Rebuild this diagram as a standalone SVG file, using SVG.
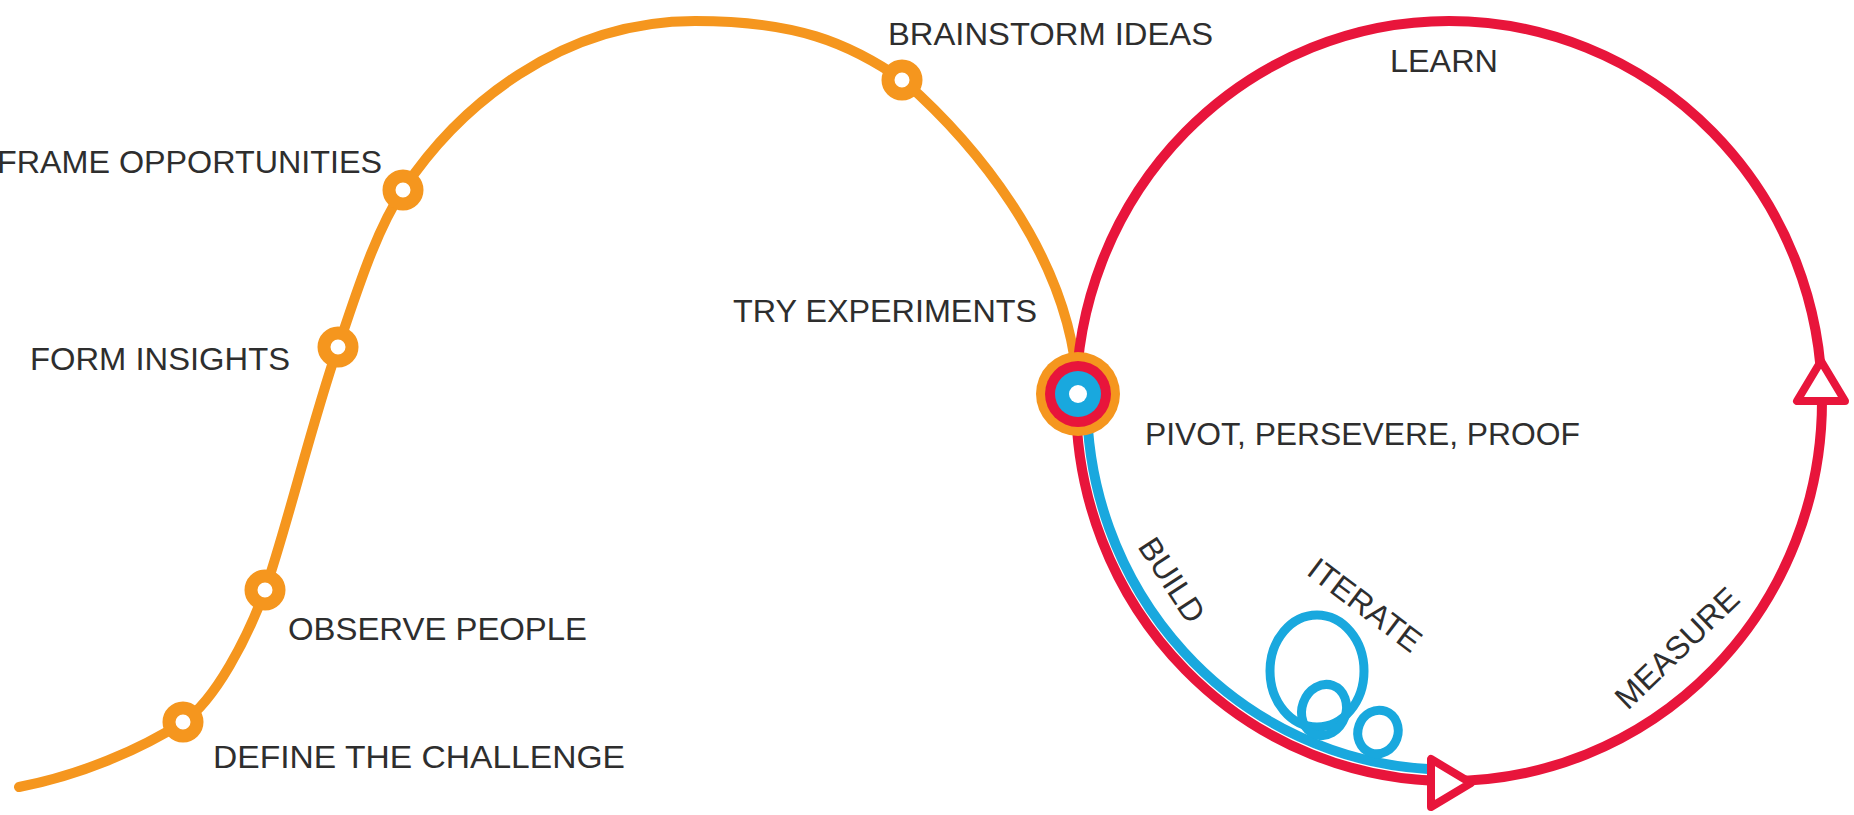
<svg xmlns="http://www.w3.org/2000/svg" width="1854" height="815" viewBox="0 0 1854 815">
<style>
.lbl{font-family:"Liberation Sans",Arial,sans-serif;font-size:32px;fill:#2e2e2e;}
.ring{fill:#ffffff;stroke:#F5961E;stroke-width:13;}
.orange{fill:none;stroke:#F5961E;stroke-width:10;stroke-linecap:round;}
.red{fill:none;stroke:#E8153B;stroke-width:10;}
.cyan{fill:none;stroke:#19A8DE;stroke-width:10;}
.loop{fill:none;stroke:#19A8DE;stroke-width:9;}
.arrow{fill:#ffffff;stroke:#E8153B;stroke-width:8;stroke-linejoin:round;}
</style>
<defs>
<path id="tri" d="M -18 -24 L -18 24 L 22 0 Z"/>
</defs>
<rect width="1854" height="815" fill="#ffffff"/>
<g id="connectors">
<path class="orange" d="M 19 787 C 80 775 140 750 183 722 C 215 701 248 637 265 590 C 285 534 312 422 338 347 C 356 295 375 232 403 190 C 458 107 560 21 695 21 C 795 21 848 42 904 81 C 964 134 1072 250 1078 393"/>
<ellipse class="red" cx="1449" cy="401" rx="373" ry="380"/>
<path class="cyan" d="M 1087 395 A 362 369 0 0 0 1428 769"/>
<ellipse class="loop" cx="1317" cy="671" rx="47" ry="56"/>
<ellipse class="loop" cx="1324" cy="710" rx="22" ry="26" transform="rotate(20 1324 710)"/>
<ellipse class="loop" cx="1378" cy="732" rx="20" ry="22" transform="rotate(20 1378 732)"/>
<use href="#tri" class="arrow" transform="translate(1449 783)"/>
<use href="#tri" class="arrow" transform="translate(1821 383) rotate(-90)"/>
<text class="lbl" x="1390" y="72" textLength="108" lengthAdjust="spacingAndGlyphs">LEARN</text>
<text class="lbl" text-anchor="middle" y="11" transform="translate(1172 580) rotate(57)">BUILD</text>
<text class="lbl" text-anchor="middle" y="11" transform="translate(1365 605) rotate(37)">ITERATE</text>
<text class="lbl" text-anchor="middle" y="11" transform="translate(1677 648) rotate(-44)">MEASURE</text>
</g>
<g id="node-define">
<circle class="ring" cx="183" cy="722" r="14"/>
<text class="lbl" x="213" y="768" textLength="412" lengthAdjust="spacingAndGlyphs">DEFINE THE CHALLENGE</text>
</g>
<g id="node-observe">
<circle class="ring" cx="265" cy="590" r="14"/>
<text class="lbl" x="288" y="640" textLength="299" lengthAdjust="spacingAndGlyphs">OBSERVE PEOPLE</text>
</g>
<g id="node-insights">
<circle class="ring" cx="338" cy="347" r="14"/>
<text class="lbl" x="30" y="370" textLength="260" lengthAdjust="spacingAndGlyphs">FORM INSIGHTS</text>
</g>
<g id="node-frame">
<circle class="ring" cx="403" cy="190" r="14"/>
<text class="lbl" x="-3" y="173" textLength="385" lengthAdjust="spacingAndGlyphs">FRAME OPPORTUNITIES</text>
</g>
<g id="node-brainstorm">
<circle class="ring" cx="902" cy="80" r="14"/>
<text class="lbl" x="888" y="45" textLength="325" lengthAdjust="spacingAndGlyphs">BRAINSTORM IDEAS</text>
</g>
<g id="node-experiments">
<circle cx="1078" cy="394" r="42" fill="#F5961E"/>
<circle cx="1078" cy="394" r="33" fill="#E8153B"/>
<circle cx="1078" cy="394" r="23" fill="#19A8DE"/>
<circle cx="1078" cy="394" r="9" fill="#ffffff"/>
<text class="lbl" x="733" y="322" textLength="304" lengthAdjust="spacingAndGlyphs">TRY EXPERIMENTS</text>
<text class="lbl" x="1145" y="445" textLength="435" lengthAdjust="spacingAndGlyphs">PIVOT, PERSEVERE, PROOF</text>
</g>
</svg>
